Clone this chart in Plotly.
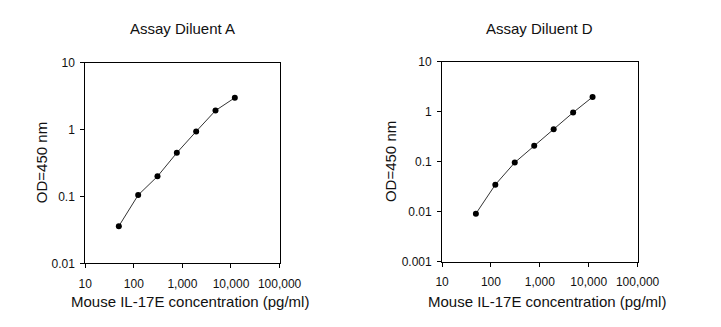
import plotly.graph_objects as go

conc = [49.2, 122.9, 307.2, 768, 1920, 4800, 12000]
od_a = [0.036, 0.105, 0.20, 0.45, 0.94, 1.93, 3.0]
od_d = [0.0092, 0.035, 0.097, 0.21, 0.45, 0.97, 1.98]

x_ticks = [10, 100, 1000, 10000, 100000]
x_ticktext = ["10", "100", "1,000", "10,000", "100,000"]
ya_ticks = [0.01, 0.1, 1, 10]
ya_ticktext = ["0.01", "0.1", "1", "10"]
yd_ticks = [0.001, 0.01, 0.1, 1, 10]
yd_ticktext = ["0.001", "0.01", "0.1", "1", "10"]

titles = ["Assay Diluent A", "Assay Diluent D"]
x_title = "Mouse IL-17E concentration (pg/ml)"
y_title = "OD=450 nm"

W, H = 721, 327
FONT = "Liberation Sans, Arial, sans-serif"

fig = go.Figure()
fig.add_trace(go.Scatter(x=conc, y=od_a, mode="lines+markers", xaxis="x", yaxis="y",
                         line=dict(color="#333333", width=1),
                         marker=dict(color="black", size=6), showlegend=False))
fig.add_trace(go.Scatter(x=conc, y=od_d, mode="lines+markers", xaxis="x2", yaxis="y2",
                         line=dict(color="#333333", width=1),
                         marker=dict(color="black", size=6), showlegend=False))

def px_x(v):
    return v / W

def px_y(v):
    return 1 - v / H

common_x = dict(type="log", range=[1, 5], tickvals=x_ticks, ticktext=x_ticktext,
                showline=True, linecolor="black", linewidth=1, mirror=True,
                ticks="outside", ticklen=4, tickcolor="black", showgrid=False,
                zeroline=False, ticklabelstandoff=5,
                tickfont=dict(size=12, color="#111111", family=FONT))
common_y = dict(type="log", showline=True, linecolor="black", linewidth=1, mirror=True,
                ticks="outside", ticklen=4, tickcolor="black", showgrid=False,
                zeroline=False, ticklabelstandoff=3,
                tickfont=dict(size=12, color="#111111", family=FONT))

L1, R1, T1, B1 = 81.5, 284, 58.3, 267.8
L2, R2, T2, B2 = 453.3, 657, 57.3, 266.3

fig.update_layout(
    width=W, height=H, margin=dict(l=0, r=0, t=0, b=0),
    paper_bgcolor="white", plot_bgcolor="white",
    font=dict(family=FONT, color="#111111"),
    xaxis=dict(domain=[px_x(L1), px_x(R1)], anchor="y", **common_x),
    yaxis=dict(domain=[px_y(B1), px_y(T1)], anchor="x", range=[-2, 1],
               tickvals=ya_ticks, ticktext=ya_ticktext, **common_y),
    xaxis2=dict(domain=[px_x(L2), px_x(R2)], anchor="y2", **common_x),
    yaxis2=dict(domain=[px_y(B2), px_y(T2)], anchor="x2", range=[-3, 1],
                tickvals=yd_ticks, ticktext=yd_ticktext, **common_y),
)

anns = []
for (L, R, T, B), t, yoff in zip([(L1, R1, T1, B1), (L2, R2, T2, B2)], titles, [46, 53]):
    cx = (L + R) / 2
    anns.append(dict(text=t, x=px_x(cx), y=px_y(22), xref="paper", yref="paper",
                     showarrow=False, xanchor="center", yanchor="middle",
                     font=dict(size=15, family=FONT, color="#111111")))
    anns.append(dict(text=x_title, x=px_x(cx + 8), y=px_y(308), xref="paper", yref="paper",
                     showarrow=False, xanchor="center", yanchor="middle",
                     font=dict(size=15, family=FONT, color="#111111")))
    anns.append(dict(text=y_title, x=px_x(L - yoff), y=px_y((T + B) / 2), xref="paper", yref="paper",
                     showarrow=False, xanchor="center", yanchor="middle", textangle=-90,
                     font=dict(size=15, family=FONT, color="#111111")))
fig.update_layout(annotations=anns)

fig.write_html("out.html")
